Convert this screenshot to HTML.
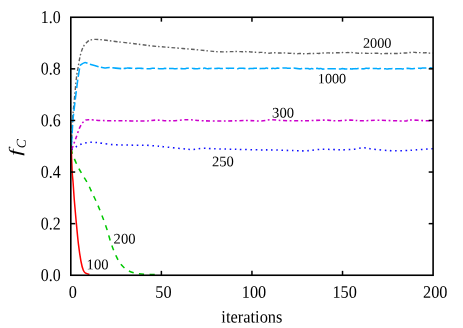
<!DOCTYPE html>
<html><head><meta charset="utf-8"><style>
html,body{margin:0;padding:0;background:#fff;}
svg{display:block;will-change:transform}
text{font-family:"Liberation Serif",serif;fill:#000}
</style></head><body>
<svg width="463" height="328" viewBox="0 0 463 328">
<rect width="463" height="328" fill="#fff"/>
<g fill="none" stroke-linejoin="round">
<path d="M71.30 148.00 C71.52 143.17 72.13 126.60 72.60 119.00 C73.07 111.40 73.47 109.23 74.10 102.40 C74.73 95.57 75.75 83.72 76.40 78.00 C77.05 72.28 77.37 71.78 78.00 68.10 C78.63 64.42 79.32 59.45 80.20 55.90 C81.08 52.35 82.02 49.22 83.30 46.80 C84.58 44.38 86.38 42.60 87.90 41.40 C89.42 40.20 90.63 39.92 92.40 39.60 C94.17 39.28 96.20 39.33 98.50 39.45 C100.80 39.57 103.07 39.92 106.20 40.30 C109.33 40.67 112.58 41.13 117.30 41.70 C122.02 42.27 128.75 43.00 134.50 43.70 C140.25 44.40 146.05 45.28 151.80 45.90 C157.55 46.52 162.37 46.84 169.00 47.40 C175.63 47.96 184.23 48.58 191.60 49.25 C198.97 49.92 207.80 50.97 213.20 51.40 C218.60 51.83 221.16 51.81 224.00 51.85 C226.84 51.89 228.87 51.70 230.21 51.67 C231.55 51.63 231.42 51.65 232.02 51.65 C232.63 51.65 233.23 51.67 233.83 51.65 C234.44 51.62 235.04 51.56 235.65 51.51 C236.25 51.46 236.85 51.35 237.46 51.36 C238.06 51.38 238.67 51.56 239.27 51.60 C239.87 51.64 240.48 51.58 241.08 51.61 C241.68 51.63 242.29 51.77 242.89 51.76 C243.50 51.74 244.10 51.50 244.70 51.51 C245.31 51.51 245.91 51.78 246.52 51.80 C247.12 51.82 247.72 51.59 248.33 51.60 C248.93 51.61 249.53 51.79 250.14 51.85 C250.74 51.92 251.35 51.93 251.95 51.99 C252.55 52.06 253.16 52.20 253.76 52.26 C254.37 52.31 254.97 52.27 255.57 52.30 C256.18 52.33 256.78 52.40 257.38 52.42 C257.99 52.45 258.59 52.47 259.20 52.46 C259.80 52.45 260.40 52.38 261.01 52.36 C261.61 52.35 262.22 52.31 262.82 52.38 C263.42 52.45 264.03 52.70 264.63 52.78 C265.23 52.85 265.84 52.77 266.44 52.83 C267.05 52.90 267.65 53.11 268.25 53.16 C268.86 53.21 269.46 53.19 270.06 53.14 C270.67 53.10 271.27 52.94 271.88 52.89 C272.48 52.84 273.08 52.89 273.69 52.86 C274.29 52.83 274.90 52.72 275.50 52.72 C276.10 52.73 276.71 52.86 277.31 52.90 C277.91 52.94 278.52 52.94 279.12 52.96 C279.73 52.99 280.33 53.03 280.93 53.05 C281.54 53.07 282.14 53.11 282.75 53.09 C283.35 53.06 283.95 52.88 284.56 52.89 C285.16 52.89 285.76 53.06 286.37 53.11 C286.97 53.15 287.58 53.14 288.18 53.18 C288.78 53.22 289.39 53.31 289.99 53.33 C290.60 53.35 291.20 53.27 291.80 53.31 C292.41 53.34 293.01 53.53 293.61 53.56 C294.22 53.59 294.82 53.45 295.43 53.47 C296.03 53.50 296.63 53.69 297.24 53.70 C297.84 53.71 298.45 53.57 299.05 53.53 C299.65 53.50 300.26 53.45 300.86 53.49 C301.46 53.53 302.07 53.74 302.67 53.77 C303.28 53.80 303.88 53.66 304.48 53.65 C305.09 53.64 305.69 53.71 306.30 53.71 C306.90 53.70 307.50 53.66 308.11 53.63 C308.71 53.60 309.31 53.55 309.92 53.51 C310.52 53.48 311.13 53.41 311.73 53.40 C312.33 53.39 312.94 53.46 313.54 53.47 C314.14 53.47 314.75 53.43 315.35 53.41 C315.96 53.40 316.56 53.38 317.16 53.38 C317.77 53.38 318.37 53.47 318.98 53.43 C319.58 53.39 320.18 53.19 320.79 53.13 C321.39 53.06 321.99 53.09 322.60 53.05 C323.20 53.01 323.81 52.90 324.41 52.89 C325.01 52.88 325.62 53.02 326.22 53.01 C326.83 53.00 327.43 52.84 328.03 52.84 C328.64 52.84 329.24 52.96 329.84 53.00 C330.45 53.04 331.05 53.10 331.66 53.09 C332.26 53.07 332.86 52.98 333.47 52.92 C334.07 52.87 334.68 52.77 335.28 52.75 C335.88 52.72 336.49 52.76 337.09 52.76 C337.69 52.76 338.30 52.78 338.90 52.76 C339.51 52.75 340.11 52.73 340.71 52.69 C341.32 52.66 341.92 52.54 342.53 52.54 C343.13 52.55 343.73 52.70 344.34 52.71 C344.94 52.73 345.54 52.66 346.15 52.63 C346.75 52.59 347.36 52.51 347.96 52.51 C348.56 52.52 349.17 52.67 349.77 52.67 C350.37 52.67 350.98 52.48 351.58 52.49 C352.19 52.50 352.79 52.69 353.39 52.75 C354.00 52.82 354.60 52.83 355.21 52.89 C355.81 52.96 356.41 53.10 357.02 53.16 C357.62 53.21 358.22 53.25 358.83 53.23 C359.43 53.21 360.04 53.06 360.64 53.05 C361.24 53.04 361.85 53.13 362.45 53.16 C363.06 53.20 363.66 53.25 364.26 53.27 C364.87 53.29 365.47 53.27 366.07 53.29 C366.68 53.31 367.28 53.43 367.89 53.41 C368.49 53.40 369.09 53.23 369.70 53.22 C370.30 53.21 370.91 53.33 371.51 53.36 C372.11 53.40 372.72 53.44 373.32 53.43 C373.92 53.42 374.53 53.30 375.13 53.28 C375.74 53.26 376.34 53.29 376.94 53.30 C377.55 53.32 378.15 53.33 378.75 53.37 C379.36 53.42 379.96 53.51 380.57 53.59 C381.17 53.67 381.77 53.85 382.38 53.85 C382.98 53.85 383.59 53.66 384.19 53.60 C384.79 53.55 385.40 53.54 386.00 53.52 C386.60 53.49 387.21 53.46 387.81 53.44 C388.42 53.42 389.02 53.35 389.62 53.37 C390.23 53.39 390.83 53.55 391.44 53.57 C392.04 53.58 392.64 53.46 393.25 53.45 C393.85 53.44 394.45 53.48 395.06 53.50 C395.66 53.52 396.27 53.57 396.87 53.55 C397.47 53.54 398.08 53.47 398.68 53.42 C399.29 53.37 399.89 53.32 400.49 53.26 C401.10 53.19 401.70 53.10 402.30 53.05 C402.91 53.00 403.51 52.96 404.12 52.95 C404.72 52.94 405.32 53.01 405.93 52.99 C406.53 52.96 407.14 52.85 407.74 52.78 C408.34 52.71 408.95 52.63 409.55 52.56 C410.15 52.50 410.76 52.46 411.36 52.40 C411.97 52.34 412.57 52.22 413.17 52.23 C413.78 52.23 414.38 52.35 414.99 52.42 C415.59 52.49 416.19 52.60 416.80 52.64 C417.40 52.67 418.00 52.63 418.61 52.63 C419.21 52.63 419.82 52.64 420.42 52.63 C421.02 52.62 421.63 52.54 422.23 52.58 C422.83 52.62 423.44 52.84 424.04 52.87 C424.65 52.89 425.25 52.74 425.85 52.75 C426.46 52.76 427.06 52.87 427.67 52.93 C428.27 53.00 428.87 53.10 429.48 53.15 C430.08 53.20 430.68 53.25 431.29 53.23 C431.89 53.22 432.80 53.09 433.10 53.06" stroke="#606060" stroke-width="1.4" stroke-dasharray="3.8 2 1.5 2.4"/>
<path d="M71.30 148.00 C71.41 146.18 72.66 123.74 72.90 120.70 C73.14 117.66 74.57 105.16 74.90 102.40 C75.23 99.64 77.55 81.21 77.80 79.30 C78.05 77.39 78.56 74.65 78.70 73.80 C78.84 72.95 79.75 67.11 79.90 66.50 C80.05 65.89 80.65 64.87 81.00 64.60 C81.35 64.33 84.52 62.43 85.10 62.40 C85.68 62.37 88.75 63.90 89.70 64.20 C90.65 64.50 98.29 66.65 99.30 66.90 C100.31 67.15 104.09 67.95 104.80 68.00 C105.51 68.05 108.89 67.56 110.00 67.60 C111.11 67.64 120.63 68.60 121.52 68.66 C122.41 68.72 123.09 68.54 123.33 68.52 C123.58 68.50 124.90 68.42 125.14 68.38 C125.39 68.35 126.71 68.01 126.96 68.00 C127.20 67.98 128.53 68.11 128.77 68.12 C129.01 68.13 130.34 68.09 130.58 68.11 C130.82 68.12 132.15 68.29 132.39 68.32 C132.63 68.35 133.96 68.57 134.20 68.58 C134.44 68.59 135.77 68.48 136.01 68.47 C136.26 68.45 137.58 68.34 137.83 68.32 C138.07 68.31 139.40 68.30 139.64 68.30 C139.88 68.30 141.21 68.34 141.45 68.36 C141.69 68.38 143.02 68.56 143.26 68.59 C143.50 68.61 144.83 68.73 145.07 68.74 C145.31 68.75 146.64 68.70 146.88 68.70 C147.12 68.70 148.45 68.71 148.69 68.71 C148.94 68.70 150.26 68.65 150.51 68.62 C150.75 68.58 152.08 68.24 152.32 68.22 C152.56 68.20 153.89 68.33 154.13 68.33 C154.37 68.32 155.70 68.17 155.94 68.18 C156.18 68.19 157.51 68.47 157.75 68.52 C157.99 68.56 159.32 68.80 159.56 68.81 C159.81 68.82 161.13 68.73 161.38 68.72 C161.62 68.72 162.94 68.75 163.19 68.73 C163.43 68.71 164.76 68.40 165.00 68.39 C165.24 68.38 166.57 68.58 166.81 68.59 C167.05 68.60 168.38 68.58 168.62 68.58 C168.86 68.58 170.19 68.55 170.43 68.54 C170.67 68.54 172.00 68.50 172.24 68.51 C172.49 68.52 173.81 68.68 174.06 68.69 C174.30 68.70 175.63 68.67 175.87 68.66 C176.11 68.65 177.44 68.59 177.68 68.57 C177.92 68.54 179.25 68.28 179.49 68.28 C179.73 68.28 181.06 68.58 181.30 68.61 C181.54 68.64 182.87 68.77 183.11 68.77 C183.35 68.78 184.68 68.72 184.92 68.68 C185.17 68.65 186.49 68.31 186.74 68.27 C186.98 68.24 188.31 68.19 188.55 68.20 C188.79 68.20 190.12 68.38 190.36 68.39 C190.60 68.40 191.93 68.30 192.17 68.32 C192.41 68.33 193.74 68.60 193.98 68.62 C194.22 68.64 195.55 68.66 195.79 68.66 C196.04 68.66 197.36 68.67 197.61 68.65 C197.85 68.63 199.17 68.44 199.42 68.41 C199.66 68.38 200.99 68.17 201.23 68.18 C201.47 68.18 202.80 68.46 203.04 68.46 C203.28 68.45 204.61 68.09 204.85 68.10 C205.09 68.11 206.42 68.55 206.66 68.59 C206.90 68.62 208.23 68.65 208.47 68.64 C208.72 68.63 210.04 68.48 210.29 68.46 C210.53 68.44 211.86 68.31 212.10 68.31 C212.34 68.31 213.67 68.48 213.91 68.49 C214.15 68.50 215.48 68.43 215.72 68.42 C215.96 68.42 217.29 68.40 217.53 68.39 C217.77 68.38 219.10 68.23 219.34 68.23 C219.58 68.24 220.91 68.50 221.15 68.52 C221.40 68.54 222.72 68.53 222.97 68.52 C223.21 68.51 224.54 68.41 224.78 68.39 C225.02 68.37 226.35 68.17 226.59 68.17 C226.83 68.17 228.16 68.37 228.40 68.37 C228.64 68.38 229.97 68.23 230.21 68.23 C230.45 68.22 231.78 68.23 232.02 68.24 C232.27 68.25 233.59 68.30 233.83 68.31 C234.08 68.33 235.40 68.42 235.65 68.44 C235.89 68.47 237.22 68.72 237.46 68.70 C237.70 68.68 239.03 68.23 239.27 68.20 C239.51 68.18 240.84 68.32 241.08 68.32 C241.32 68.32 242.65 68.18 242.89 68.18 C243.13 68.19 244.46 68.38 244.70 68.41 C244.95 68.43 246.27 68.52 246.52 68.54 C246.76 68.57 248.09 68.74 248.33 68.74 C248.57 68.74 249.90 68.58 250.14 68.57 C250.38 68.55 251.71 68.50 251.95 68.49 C252.19 68.48 253.52 68.37 253.76 68.36 C254.00 68.35 255.33 68.32 255.57 68.31 C255.81 68.30 257.14 68.18 257.38 68.21 C257.63 68.23 258.95 68.61 259.20 68.64 C259.44 68.66 260.77 68.61 261.01 68.59 C261.25 68.58 262.58 68.41 262.82 68.40 C263.06 68.39 264.39 68.50 264.63 68.48 C264.87 68.46 266.20 68.09 266.44 68.09 C266.68 68.09 268.01 68.46 268.25 68.48 C268.50 68.50 269.82 68.37 270.06 68.37 C270.31 68.36 271.63 68.44 271.88 68.44 C272.12 68.44 273.45 68.33 273.69 68.34 C273.93 68.34 275.26 68.53 275.50 68.51 C275.74 68.50 277.07 68.14 277.31 68.11 C277.55 68.09 278.88 68.16 279.12 68.17 C279.36 68.17 280.69 68.22 280.93 68.20 C281.18 68.19 282.50 67.91 282.75 67.91 C282.99 67.90 284.32 68.07 284.56 68.08 C284.80 68.09 286.13 68.02 286.37 68.03 C286.61 68.04 287.94 68.21 288.18 68.23 C288.42 68.25 289.75 68.29 289.99 68.30 C290.23 68.31 291.56 68.37 291.80 68.35 C292.04 68.34 293.37 68.09 293.61 68.09 C293.86 68.09 295.18 68.31 295.43 68.34 C295.67 68.36 297.00 68.46 297.24 68.49 C297.48 68.53 298.81 68.82 299.05 68.85 C299.29 68.87 300.62 68.88 300.86 68.84 C301.10 68.81 302.43 68.37 302.67 68.34 C302.91 68.32 304.24 68.53 304.48 68.54 C304.73 68.54 306.05 68.43 306.30 68.42 C306.54 68.42 307.86 68.41 308.11 68.44 C308.35 68.48 309.68 68.96 309.92 68.97 C310.16 68.98 311.49 68.58 311.73 68.58 C311.97 68.57 313.30 68.94 313.54 68.94 C313.78 68.93 315.11 68.53 315.35 68.49 C315.59 68.45 316.92 68.32 317.16 68.33 C317.41 68.35 318.73 68.66 318.98 68.67 C319.22 68.69 320.55 68.54 320.79 68.57 C321.03 68.60 322.36 69.11 322.60 69.14 C322.84 69.16 324.17 68.96 324.41 68.94 C324.65 68.92 325.98 68.83 326.22 68.82 C326.46 68.80 327.79 68.75 328.03 68.74 C328.27 68.73 329.60 68.65 329.84 68.65 C330.09 68.65 331.41 68.75 331.66 68.76 C331.90 68.76 333.23 68.74 333.47 68.74 C333.71 68.74 335.04 68.79 335.28 68.81 C335.52 68.83 336.85 69.05 337.09 69.07 C337.33 69.08 338.66 69.05 338.90 69.04 C339.14 69.04 340.47 69.01 340.71 68.98 C340.96 68.95 342.28 68.63 342.53 68.62 C342.77 68.61 344.09 68.85 344.34 68.87 C344.58 68.89 345.91 68.93 346.15 68.94 C346.39 68.96 347.72 69.13 347.96 69.11 C348.20 69.10 349.53 68.72 349.77 68.72 C350.01 68.71 351.34 69.00 351.58 69.01 C351.82 69.01 353.15 68.82 353.39 68.80 C353.64 68.78 354.96 68.66 355.21 68.65 C355.45 68.64 356.78 68.68 357.02 68.65 C357.26 68.63 358.59 68.35 358.83 68.34 C359.07 68.33 360.40 68.48 360.64 68.51 C360.88 68.55 362.21 68.83 362.45 68.85 C362.69 68.86 364.02 68.75 364.26 68.71 C364.50 68.67 365.83 68.24 366.07 68.22 C366.32 68.20 367.64 68.41 367.89 68.42 C368.13 68.43 369.46 68.33 369.70 68.35 C369.94 68.36 371.27 68.57 371.51 68.58 C371.75 68.59 373.08 68.52 373.32 68.52 C373.56 68.51 374.89 68.56 375.13 68.56 C375.37 68.56 376.70 68.47 376.94 68.49 C377.19 68.50 378.51 68.83 378.75 68.82 C379.00 68.82 380.32 68.47 380.57 68.44 C380.81 68.42 382.14 68.43 382.38 68.45 C382.62 68.47 383.95 68.67 384.19 68.69 C384.43 68.72 385.76 68.81 386.00 68.84 C386.24 68.86 387.57 69.06 387.81 69.05 C388.05 69.04 389.38 68.73 389.62 68.71 C389.87 68.68 391.19 68.71 391.44 68.69 C391.68 68.68 393.01 68.47 393.25 68.48 C393.49 68.49 394.82 68.83 395.06 68.85 C395.30 68.87 396.63 68.82 396.87 68.80 C397.11 68.79 398.44 68.67 398.68 68.66 C398.92 68.66 400.25 68.76 400.49 68.78 C400.73 68.79 402.06 68.91 402.30 68.91 C402.55 68.90 403.87 68.71 404.12 68.68 C404.36 68.65 405.69 68.43 405.93 68.41 C406.17 68.39 407.50 68.35 407.74 68.36 C407.98 68.37 409.31 68.53 409.55 68.56 C409.79 68.59 411.12 68.80 411.36 68.81 C411.60 68.82 412.93 68.71 413.17 68.69 C413.42 68.66 414.74 68.41 414.99 68.40 C415.23 68.40 416.55 68.60 416.80 68.59 C417.04 68.57 418.37 68.26 418.61 68.24 C418.85 68.23 420.18 68.37 420.42 68.36 C420.66 68.35 421.99 68.08 422.23 68.06 C422.47 68.04 423.80 68.09 424.04 68.08 C424.28 68.08 425.61 68.00 425.85 67.98 C426.10 67.96 427.42 67.83 427.67 67.83 C427.91 67.83 429.24 67.96 429.48 67.96 C429.72 67.95 431.05 67.68 431.29 67.71 C431.53 67.73 432.98 68.29 433.10 68.34" stroke="#00aaff" stroke-width="1.55" stroke-dasharray="8.6 2.8" stroke-dashoffset="-3"/>
<path d="M71.50 149.50 C71.62 149.28 71.55 149.85 72.20 148.20 C72.85 146.55 74.15 143.02 75.40 139.60 C76.65 136.18 78.27 130.77 79.70 127.70 C81.13 124.63 82.55 122.53 84.00 121.20 C85.45 119.87 85.33 119.81 88.40 119.70 C91.47 119.59 96.47 120.37 102.40 120.55 C108.33 120.73 116.80 120.72 124.00 120.80 C131.20 120.88 140.20 121.12 145.60 121.00 C151.00 120.88 152.20 120.13 156.40 120.10 C160.60 120.07 165.53 120.87 170.80 120.80 C176.07 120.73 182.63 119.70 188.00 119.70 C193.37 119.70 196.87 120.58 203.00 120.80 C209.13 121.02 217.57 121.04 224.80 121.00 C232.03 120.96 240.40 120.55 246.40 120.55 C252.40 120.55 256.60 121.14 260.80 121.00 C265.00 120.86 268.00 119.78 271.60 119.70 C275.20 119.62 277.00 120.37 282.40 120.55 C287.80 120.73 296.80 120.88 304.00 120.80 C311.20 120.72 320.20 120.10 325.60 120.10 C331.00 120.10 332.20 120.80 336.40 120.80 C340.60 120.80 346.60 120.10 350.80 120.10 C355.00 120.10 356.92 120.77 361.60 120.80 C366.28 120.83 371.70 120.27 378.90 120.30 C386.10 120.33 399.78 121.07 404.80 121.00 C409.82 120.93 405.40 119.93 409.00 119.90 C412.60 119.87 422.40 120.70 426.40 120.80 C430.40 120.90 431.90 120.55 433.00 120.50" stroke="#cc00cc" stroke-width="1.55" stroke-dasharray="4 2.6 1.8 2.6"/>
<path d="M71.50 150.00 C71.62 149.88 71.37 149.88 72.20 149.30 C73.03 148.72 75.07 147.33 76.50 146.50 C77.93 145.67 79.18 144.92 80.80 144.30 C82.42 143.68 84.40 143.16 86.20 142.80 C88.00 142.44 89.80 142.18 91.60 142.15 C93.40 142.12 95.20 142.39 97.00 142.60 C98.80 142.81 99.70 143.05 102.40 143.40 C105.10 143.75 109.60 144.44 113.20 144.70 C116.80 144.96 120.40 144.88 124.00 144.96 C127.60 145.04 131.20 145.16 134.80 145.20 C138.40 145.24 142.00 145.07 145.60 145.20 C149.20 145.33 153.47 145.75 156.40 146.00 C159.33 146.25 159.00 146.27 163.20 146.70 C167.40 147.13 176.73 148.13 181.60 148.60 C186.47 149.07 188.80 149.57 192.40 149.50 C196.00 149.43 199.60 148.32 203.20 148.20 C206.80 148.08 208.60 148.62 214.00 148.80 C219.40 148.98 227.93 149.12 235.60 149.30 C243.27 149.48 254.00 149.80 260.00 149.90 C266.00 150.00 266.07 149.78 271.60 149.90 C277.13 150.02 287.43 150.45 293.20 150.60 C298.97 150.75 301.52 151.02 306.20 150.80 C310.88 150.58 316.27 149.48 321.30 149.30 C326.33 149.12 332.92 149.60 336.40 149.70 C339.88 149.80 339.43 149.97 342.20 149.90 C344.97 149.83 349.40 149.65 353.00 149.30 C356.60 148.95 360.57 147.83 363.80 147.80 C367.03 147.77 368.08 148.63 372.40 149.10 C376.72 149.57 384.30 150.35 389.70 150.60 C395.10 150.85 400.48 150.72 404.80 150.60 C409.12 150.48 411.28 150.20 415.60 149.90 C419.92 149.60 427.80 148.98 430.70 148.80 C433.60 148.62 432.62 148.80 433.00 148.80" stroke="#1010ff" stroke-width="1.55" stroke-dasharray="1.55 3.63"/>
<path d="M71.30 149.00 C71.53 149.93 71.70 151.85 72.70 154.60 C73.70 157.35 75.68 162.15 77.30 165.50 C78.92 168.85 80.63 171.65 82.40 174.70 C84.17 177.75 86.25 180.70 87.90 183.80 C89.55 186.90 90.80 190.10 92.30 193.30 C93.80 196.50 95.35 199.45 96.90 203.00 C98.45 206.55 100.00 210.43 101.60 214.60 C103.20 218.77 104.88 223.12 106.50 228.00 C108.12 232.88 109.68 239.22 111.30 243.90 C112.92 248.58 114.57 252.65 116.20 256.10 C117.83 259.55 119.07 262.17 121.10 264.60 C123.13 267.03 125.55 269.18 128.40 270.70 C131.25 272.22 134.53 273.08 138.20 273.70 C141.87 274.32 147.43 274.25 150.40 274.40 C153.37 274.55 155.07 274.57 156.00 274.60" stroke="#00c800" stroke-width="1.5" stroke-dasharray="5.1 5.4"/>
<path d="M71.30 149.00 C71.45 152.83 71.90 166.38 72.20 172.00 C72.50 177.62 72.75 178.03 73.10 182.70 C73.45 187.37 73.82 193.87 74.30 200.00 C74.78 206.13 75.32 212.18 76.00 219.50 C76.68 226.82 77.58 236.98 78.40 243.90 C79.22 250.82 80.08 256.62 80.90 261.00 C81.72 265.38 82.50 268.17 83.30 270.20 C84.10 272.23 84.68 272.50 85.70 273.20 C86.72 273.90 88.78 274.20 89.40 274.40" stroke="#ff0000" stroke-width="1.5"/>
</g>
<g stroke="#000" stroke-width="1.5" fill="none">
<line x1="161.38" y1="275.25" x2="161.38" y2="270.85"/>
<line x1="161.38" y1="17.25" x2="161.38" y2="21.65"/>
<line x1="251.95" y1="275.25" x2="251.95" y2="270.85"/>
<line x1="251.95" y1="17.25" x2="251.95" y2="21.65"/>
<line x1="342.53" y1="275.25" x2="342.53" y2="270.85"/>
<line x1="342.53" y1="17.25" x2="342.53" y2="21.65"/>
<line x1="70.8" y1="223.65" x2="75.2" y2="223.65"/>
<line x1="433.1" y1="223.65" x2="428.70000000000005" y2="223.65"/>
<line x1="70.8" y1="172.05" x2="75.2" y2="172.05"/>
<line x1="433.1" y1="172.05" x2="428.70000000000005" y2="172.05"/>
<line x1="70.8" y1="120.45" x2="75.2" y2="120.45"/>
<line x1="433.1" y1="120.45" x2="428.70000000000005" y2="120.45"/>
<line x1="70.8" y1="68.85" x2="75.2" y2="68.85"/>
<line x1="433.1" y1="68.85" x2="428.70000000000005" y2="68.85"/>
</g>
<rect x="70.8" y="17.25" width="362.30" height="258.00" fill="none" stroke="#000" stroke-width="1.6"/>
<g font-size="18.1px">
<text transform="translate(72.90,297.80) scale(0.925,1) rotate(0.03)" text-anchor="middle" font-size="17.6px">0</text>
<text transform="translate(163.47,297.80) scale(0.925,1) rotate(0.03)" text-anchor="middle" font-size="17.6px">50</text>
<text transform="translate(254.05,297.80) scale(0.925,1) rotate(0.03)" text-anchor="middle" font-size="17.6px">100</text>
<text transform="translate(344.63,297.80) scale(0.925,1) rotate(0.03)" text-anchor="middle" font-size="17.6px">150</text>
<text transform="translate(435.20,297.80) scale(0.925,1) rotate(0.03)" text-anchor="middle" font-size="17.6px">200</text>
<text transform="translate(60.70,281.00) scale(0.88,1) rotate(0.03)" text-anchor="end">0.0</text>
<text transform="translate(60.70,229.40) scale(0.88,1) rotate(0.03)" text-anchor="end">0.2</text>
<text transform="translate(60.70,177.80) scale(0.88,1) rotate(0.03)" text-anchor="end">0.4</text>
<text transform="translate(60.70,126.20) scale(0.88,1) rotate(0.03)" text-anchor="end">0.6</text>
<text transform="translate(60.70,74.60) scale(0.88,1) rotate(0.03)" text-anchor="end">0.8</text>
<text transform="translate(60.70,23.00) scale(0.88,1) rotate(0.03)" text-anchor="end">1.0</text>
<text transform="translate(251.90,322.40) scale(0.95,1) rotate(0.03)" text-anchor="middle" font-size="17.3px">iterations</text>
<g transform="translate(20.7,153) rotate(-90.03)" font-style="italic"><text transform="translate(-2.68,0) scale(1.377,1)" font-size="17px">f</text><text x="4.73" y="5" font-size="13.6px">C</text></g>
</g>
<g font-size="14.6px">
<text transform="translate(86.60,269.20) rotate(0.03)">100</text>
<text transform="translate(113.60,243.40) rotate(0.03)">200</text>
<text transform="translate(212.00,166.20) rotate(0.03)">250</text>
<text transform="translate(272.10,117.50) rotate(0.03)">300</text>
<text transform="translate(317.80,83.30) rotate(0.03)" font-size="14.2px">1000</text>
<text transform="translate(362.90,47.70) rotate(0.03)" font-size="14.3px">2000</text>
</g>
</svg>
</body></html>
